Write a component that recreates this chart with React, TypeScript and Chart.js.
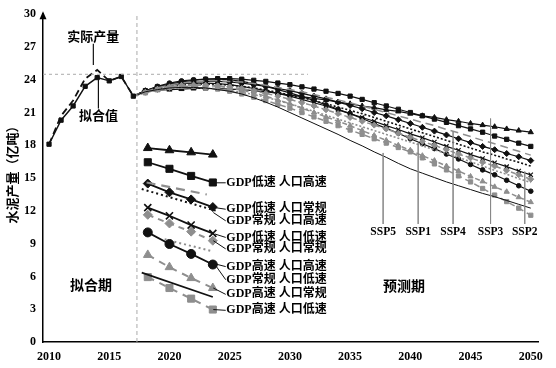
import React, { useEffect, useRef } from 'react';
import { Chart, registerables } from 'chart.js';
Chart.register(...registerables);

// ---------- data ----------
const xTickValues = [2010, 2015, 2020, 2025, 2030, 2035, 2040, 2045, 2050];
const histYears = [2010, 2011, 2012, 2013, 2014, 2015, 2016, 2017];
const actualOutput = [18.1, 20.7, 22.1, 24.1, 24.9, 23.9, 24.3, 22.5];
const fittedOutput = [18.1, 20.3, 21.6, 23.4, 24.2, 23.9, 24.3, 22.5];

const projYears = [2017, 2018, 2019, 2020, 2021, 2022, 2023, 2024, 2025, 2026, 2027, 2028, 2029, 2030, 2031, 2032, 2033, 2034, 2035, 2036, 2037, 2038, 2039, 2040, 2041, 2042, 2043, 2044, 2045, 2046, 2047, 2048, 2049, 2050];
const projTriangle = [22.5, 22.95, 23.05, 23.1, 23.15, 23.2, 23.2, 23.2, 23.15, 23.1, 23.0, 22.9, 22.75, 22.6, 22.45, 22.3, 22.15, 21.95, 21.8, 21.6, 21.45, 21.25, 21.1, 20.9, 20.7, 20.55, 20.35, 20.2, 20.0, 19.85, 19.7, 19.5, 19.35, 19.2];
const projSquare = [22.5, 23.0, 23.35, 23.6, 23.8, 23.95, 24.05, 24.1, 24.1, 24.05, 23.95, 23.85, 23.7, 23.55, 23.35, 23.15, 22.95, 22.75, 22.5, 22.2, 21.9, 21.6, 21.3, 21.0, 20.7, 20.4, 20.1, 19.8, 19.5, 19.2, 18.85, 18.55, 18.2, 17.9];
const projGrayLongDash = [22.5, 22.9, 23.25, 23.5, 23.7, 23.8, 23.9, 23.9, 23.85, 23.8, 23.65, 23.5, 23.3, 23.1, 22.9, 22.65, 22.4, 22.15, 21.9, 21.6, 21.3, 21.0, 20.7, 20.4, 20.1, 19.8, 19.45, 19.15, 18.8, 18.45, 18.15, 17.8, 17.45, 17.1];
const projDiamond = [22.5, 23.0, 23.3, 23.55, 23.7, 23.8, 23.85, 23.85, 23.8, 23.7, 23.55, 23.4, 23.2, 23.0, 22.75, 22.5, 22.25, 21.95, 21.65, 21.35, 21.0, 20.7, 20.35, 20.0, 19.65, 19.3, 18.95, 18.6, 18.25, 17.9, 17.6, 17.25, 16.95, 16.6];
const projDotted = [22.5, 22.9, 23.15, 23.35, 23.5, 23.6, 23.6, 23.6, 23.5, 23.4, 23.25, 23.05, 22.85, 22.6, 22.35, 22.1, 21.8, 21.5, 21.2, 20.9, 20.55, 20.2, 19.85, 19.5, 19.15, 18.8, 18.45, 18.1, 17.75, 17.4, 17.1, 16.75, 16.45, 16.1];
const projCross = [22.5, 22.9, 23.25, 23.5, 23.65, 23.7, 23.7, 23.65, 23.55, 23.4, 23.2, 23.0, 22.75, 22.5, 22.2, 21.9, 21.6, 21.25, 20.9, 20.55, 20.2, 19.8, 19.45, 19.05, 18.7, 18.3, 17.9, 17.55, 17.15, 16.8, 16.4, 16.05, 15.65, 15.3];
const projGrayDiamond = [22.5, 22.85, 23.1, 23.3, 23.45, 23.5, 23.5, 23.45, 23.35, 23.2, 23.0, 22.75, 22.5, 22.2, 21.9, 21.6, 21.25, 20.9, 20.55, 20.2, 19.85, 19.5, 19.1, 18.75, 18.35, 18.0, 17.6, 17.2, 16.85, 16.45, 16.1, 15.7, 15.3, 14.9];
const projGrayDotted = [22.5, 22.85, 23.05, 23.2, 23.3, 23.3, 23.25, 23.15, 23.0, 22.85, 22.65, 22.4, 22.1, 21.8, 21.45, 21.1, 20.75, 20.4, 20.05, 19.7, 19.35, 19.0, 18.65, 18.3, 17.95, 17.6, 17.25, 16.9, 16.5, 16.1, 15.7, 15.35, 14.95, 14.6];
const projCircle = [22.5, 23.0, 23.4, 23.7, 23.9, 24.0, 24.05, 24.05, 24.0, 23.85, 23.65, 23.4, 23.1, 22.8, 22.45, 22.1, 21.7, 21.3, 20.9, 20.45, 20.0, 19.55, 19.1, 18.6, 18.15, 17.7, 17.2, 16.75, 16.25, 15.75, 15.3, 14.8, 14.3, 13.8];
const projGrayTriangle = [22.5, 22.85, 23.15, 23.35, 23.5, 23.55, 23.5, 23.4, 23.25, 23.05, 22.8, 22.5, 22.15, 21.8, 21.4, 21.0, 20.6, 20.2, 19.8, 19.35, 18.9, 18.45, 18.0, 17.55, 17.05, 16.6, 16.1, 15.65, 15.15, 14.7, 14.2, 13.75, 13.25, 12.8];
const projGraySquare = [22.5, 22.8, 23.1, 23.3, 23.4, 23.4, 23.3, 23.15, 22.95, 22.7, 22.4, 22.1, 21.75, 21.4, 21.0, 20.6, 20.2, 19.8, 19.4, 19.0, 18.6, 18.2, 17.8, 17.4, 16.85, 16.3, 15.75, 15.2, 14.65, 14.05, 13.45, 12.85, 12.25, 11.6];
const projThinSolid = [22.5, 22.9, 23.1, 23.25, 23.3, 23.3, 23.25, 23.1, 22.95, 22.7, 22.35, 21.95, 21.5, 21.0, 20.5, 20.0, 19.5, 19.0, 18.45, 17.95, 17.4, 16.9, 16.35, 15.85, 15.45, 15.05, 14.65, 14.3, 13.95, 13.6, 13.3, 12.95, 12.6, 12.25];

// legend sample segments
const legX4 = [2018.2, 2020.0, 2021.8, 2023.6];
const legTriangle = [17.75, 17.55, 17.36, 17.15];
const legSquare = [16.45, 15.85, 15.2, 14.6];
const legLongDashX = [2018.1, 2023.1];
const legLongDash = [14.6, 13.5];
const legDiamond = [14.5, 13.7, 13.05, 12.35];
const legDottedX = [2017.7, 2023.9];
const legDotted = [14.0, 12.0];
const legCross = [12.3, 11.55, 10.7, 9.94];
const legGrayDiamond = [11.64, 10.85, 10.1, 9.27];
const legCircle = [10.03, 8.97, 8.06, 7.09];
const legGrayDottedX = [2019.6, 2023.4];
const legGrayDotted = [9.4, 8.35];
const legGrayTriangle = [7.97, 6.85, 5.85, 4.94];
const legSolidX = [2017.7, 2023.6];
const legSolid = [6.34, 4.12];
const legGraySquare = [5.94, 4.94, 3.97, 2.97];

const legendLabels = ['GDP低速 人口高速', 'GDP低速 人口常规', 'GDP常规 人口高速', 'GDP低速 人口低速', 'GDP常规 人口常规', 'GDP高速 人口高速', 'GDP常规 人口低速', 'GDP高速 人口常规', 'GDP高速 人口低速'];
const legendLabelY = [14.57, 12.15, 11.09, 9.57, 8.52, 6.9, 5.7, 4.36, 2.9];
const legendLabelX = 2024.72;
const leaderStartX = [2023.78, 2023.78, 2023.64, 2023.78, 2023.64, 2023.78, 2023.64, 2023.64, 2023.64];
const leaderStartY = [14.57, 12.3, 11.85, 9.88, 9.27, 7.15, 7.3, 4.94, 2.97];

const sspLabels = ['SSP5', 'SSP1', 'SSP4', 'SSP3', 'SSP2'];
const sspX = [2037.74, 2040.65, 2043.55, 2046.66, 2049.5];
const sspTopY = [17.3, 18.2, 19.3, 20.45, 15.6];
const sspBottomY = 10.8;
const sspLabelY = 10.1;

const annotTexts = ['实际产量', '拟合值', '拟合期', '预测期'];
const annotX = [2013.68, 2014.1, 2013.49, 2039.48];
const annotY = [27.97, 20.77, 5.27, 5.11];
const annotSize = [13, 13, 14, 14];
const annotLeaderX = [2013.68, 2014.1];
const annotLeaderTop = [27.3, 24.0];
const annotLeaderBottom = [25.34, 21.36];

const refLineY = 24.5;
const refLineX = [2009.5, 2031.5];
const splitYear = 2017.3;

const yTitle = '水泥产量（亿吨）';

// ---------- styles ----------
const BLACK = '#111111';
const GRAY = '#8e8e8e';
const SERIF = '"Liberation Serif", "Noto Sans CJK SC", serif';
const CJK = '"Noto Sans CJK SC", sans-serif';

function mk(xs: number[], ys: number[], o: any) {
  const skipFirst = o.skipFirst;
  const r = o.r ?? 0;
  return {
    data: xs.map((x, i) => ({ x, y: ys[i] })),
    borderColor: o.color ?? BLACK,
    borderWidth: o.width ?? 1.2,
    borderDash: o.dash ?? [],
    pointStyle: o.style ?? 'circle',
    pointRadius: skipFirst ? (c: any) => (c.dataIndex === 0 ? 0 : r) : r,
    pointBackgroundColor: o.fill ?? o.color ?? BLACK,
    pointBorderColor: o.pcolor ?? o.color ?? BLACK,
    pointBorderWidth: o.pbw ?? 1,
    tension: 0,
    fill: false,
    showLine: true,
  };
}

const textPlugin = {
  id: 'texts',
  afterDatasetsDraw(chart: any) {
    const ctx = chart.ctx;
    const xs = chart.scales.x;
    const ys = chart.scales.y;
    ctx.save();
    ctx.fillStyle = '#000';
    ctx.textBaseline = 'middle';
    // legend labels
    ctx.textAlign = 'left';
    ctx.font = `bold 12px ${SERIF}`;
    legendLabels.forEach((t, i) => {
      ctx.fillText(t, xs.getPixelForValue(legendLabelX), ys.getPixelForValue(legendLabelY[i]));
    });
    // SSP labels
    ctx.textAlign = 'center';
    ctx.font = `bold 11.5px ${SERIF}`;
    sspLabels.forEach((t, i) => {
      ctx.fillText(t, xs.getPixelForValue(sspX[i]), ys.getPixelForValue(sspLabelY));
    });
    // annotations
    annotTexts.forEach((t, i) => {
      ctx.font = `bold ${annotSize[i]}px ${CJK}`;
      ctx.fillText(t, xs.getPixelForValue(annotX[i]), ys.getPixelForValue(annotY[i]));
    });
    // y title
    ctx.save();
    ctx.translate(12, ys.getPixelForValue(15.6));
    ctx.rotate(-Math.PI / 2);
    ctx.font = `bold 13px ${CJK}`;
    ctx.fillText(yTitle, 0, 0);
    ctx.restore();
    // arrow at top of y axis
    const ax = chart.chartArea.left;
    const top = chart.chartArea.top;
    ctx.fillStyle = '#000';
    ctx.beginPath();
    ctx.moveTo(ax, top - 3);
    ctx.lineTo(ax - 3.5, top + 5);
    ctx.lineTo(ax + 3.5, top + 5);
    ctx.closePath();
    ctx.fill();
    ctx.restore();
  },
};

export default function App() {
  const ref = useRef<HTMLCanvasElement | null>(null);
  useEffect(() => {
    if (!ref.current) return;
    const datasets: any[] = [];
    // reference lines
    datasets.push(mk(refLineX, [refLineY, refLineY], { color: '#aaaaaa', width: 1, dash: [3, 3] }));
    datasets.push(mk([splitYear, splitYear], [0, 30], { color: '#aaaaaa', width: 1, dash: [4, 3] }));
    // SSP leaders
    sspX.forEach((x, i) => datasets.push(mk([x, x], [sspTopY[i], sspBottomY], { color: '#888888', width: 0.8 })));
    // annotation leaders
    annotLeaderX.forEach((x, i) => datasets.push(mk([x, x], [annotLeaderTop[i], annotLeaderBottom[i]], { color: BLACK, width: 1.2 })));
    // legend leaders
    leaderStartX.forEach((x, i) => datasets.push(mk([x, legendLabelX - 0.05], [leaderStartY[i], legendLabelY[i]], { color: BLACK, width: 1 })));
    // history
    datasets.push(mk(histYears, actualOutput, { color: BLACK, width: 1.8, dash: [7, 4] }));
    datasets.push(mk(histYears, fittedOutput, { color: BLACK, width: 1.4, style: 'rect', r: 3 }));
    // projections
    datasets.push(mk(projYears, projThinSolid, { color: BLACK, width: 1 }));
    datasets.push(mk(projYears, projGraySquare, { color: GRAY, width: 1.5, dash: [6, 4], style: 'rect', r: 3, skipFirst: true }));
    datasets.push(mk(projYears, projGrayTriangle, { color: GRAY, width: 1.5, dash: [5, 3], style: 'triangle', r: 3, skipFirst: true }));
    datasets.push(mk(projYears, projGrayDotted, { color: GRAY, width: 1.6, dash: [2, 2] }));
    datasets.push(mk(projYears, projGrayDiamond, { color: GRAY, width: 1.5, dash: [5, 3], style: 'rectRot', r: 3, skipFirst: true }));
    datasets.push(mk(projYears, projGrayLongDash, { color: GRAY, width: 1.5, dash: [8, 5] }));
    datasets.push(mk(projYears, projCircle, { color: BLACK, width: 1.2, style: 'circle', r: 2.3, skipFirst: true }));
    datasets.push(mk(projYears, projCross, { color: BLACK, width: 1.2, style: 'crossRot', r: 3, skipFirst: true, pbw: 1.2 }));
    datasets.push(mk(projYears, projDotted, { color: BLACK, width: 1.6, dash: [2, 2] }));
    datasets.push(mk(projYears, projDiamond, { color: BLACK, width: 1.2, style: 'rectRot', r: 3, skipFirst: true }));
    datasets.push(mk(projYears, projSquare, { color: BLACK, width: 1.2, style: 'rect', r: 3, skipFirst: true }));
    datasets.push(mk(projYears, projTriangle, { color: BLACK, width: 1.2, style: 'triangle', r: 3, skipFirst: true }));
    // legend samples
    datasets.push(mk(legX4, legTriangle, { color: BLACK, width: 1.8, style: 'triangle', r: 5 }));
    datasets.push(mk(legX4, legSquare, { color: BLACK, width: 1.8, style: 'rect', r: 5 }));
    datasets.push(mk(legLongDashX, legLongDash, { color: GRAY, width: 2.2, dash: [9, 6] }));
    datasets.push(mk(legX4, legDiamond, { color: BLACK, width: 1.8, style: 'rectRot', r: 4.5 }));
    datasets.push(mk(legDottedX, legDotted, { color: BLACK, width: 2, dash: [2, 3] }));
    datasets.push(mk(legX4, legCross, { color: BLACK, width: 1.8, style: 'crossRot', r: 5, pbw: 1.6 }));
    datasets.push(mk(legX4, legGrayDiamond, { color: GRAY, width: 2, dash: [6, 5], style: 'rectRot', r: 4.5 }));
    datasets.push(mk(legX4, legCircle, { color: BLACK, width: 1.8, style: 'circle', r: 4.5 }));
    datasets.push(mk(legGrayDottedX, legGrayDotted, { color: GRAY, width: 2, dash: [2, 3] }));
    datasets.push(mk(legX4, legGrayTriangle, { color: GRAY, width: 2, dash: [7, 6], style: 'triangle', r: 5 }));
    datasets.push(mk(legSolidX, legSolid, { color: BLACK, width: 1.8 }));
    datasets.push(mk(legX4, legGraySquare, { color: GRAY, width: 2, dash: [7, 6], style: 'rect', r: 5 }));

    const chart = new Chart(ref.current, {
      type: 'line',
      data: { datasets },
      plugins: [textPlugin],
      options: {
        responsive: false,
        animation: false,
        events: [],
        layout: { padding: { top: 12, right: 18, left: 0, bottom: 0 } },
        plugins: { legend: { display: false }, tooltip: { enabled: false }, title: { display: false } },
        scales: {
          x: {
            type: 'linear',
            min: 2009.5,
            max: 2050.6,
            grid: { display: false, drawTicks: false },
            border: { display: true, color: '#000', width: 1.5 },
            afterBuildTicks: (s: any) => { s.ticks = xTickValues.map((v) => ({ value: v })); },
            afterFit: (s: any) => { s.height = 26; },
            ticks: {
              color: '#000',
              padding: 8,
              maxRotation: 0,
              autoSkip: false,
              font: { family: '"Liberation Serif", serif', weight: 'bold', size: 12 },
              callback: (v: any) => String(v),
            },
          },
          y: {
            type: 'linear',
            min: 0,
            max: 30,
            grid: { display: false, drawTicks: false },
            border: { display: true, color: '#000', width: 1.5 },
            afterFit: (s: any) => { s.width = 43; },
            ticks: {
              stepSize: 3,
              color: '#000',
              padding: 7,
              font: { family: '"Liberation Serif", serif', weight: 'bold', size: 12 },
              callback: (v: any) => String(v),
            },
          },
        },
      } as any,
    });
    return () => chart.destroy();
  }, []);
  return (
    <div style={{ position: 'absolute', left: 0, top: 0, width: 556, height: 368, background: '#fff' }}>
      <canvas ref={ref} width={556} height={368} style={{ display: 'block' }} />
    </div>
  );
}
